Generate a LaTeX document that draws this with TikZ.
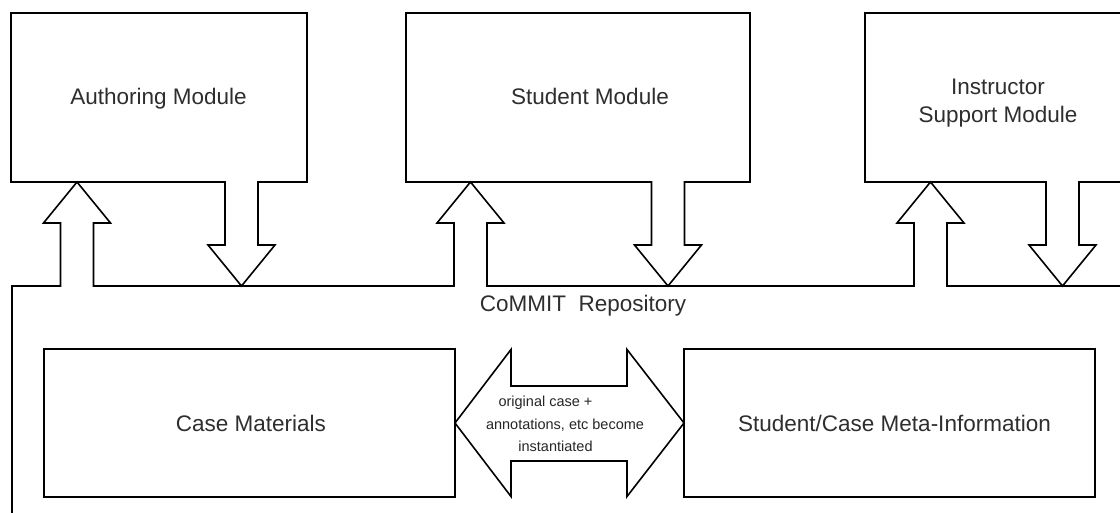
\documentclass[tikz,border=0pt]{standalone}
\usepackage{fontspec}
\setmainfont{Liberation Sans}
\usetikzlibrary{calc}

\tikzset{
  box/.style={draw, line width=1.6pt, fill=white, inner sep=0pt, outer sep=0pt},
  outline/.style={line width=1.6pt, line join=miter},
  lbl/.style={anchor=base, inner sep=0pt, text=black!82,
    font=\fontsize{22.5}{27.5}\selectfont, align=center},
  note/.style={anchor=base, inner sep=0pt, text=black!85,
    font=\fontsize{14.5}{22.5}\selectfont, align=center},
}

% Hollow arrow rising from the repository line (#2) into the lower edge of module #1
\newcommand\upblock[2]{%
  \fill[white] ($(#2 |- #1.south)+(-16.5,40)$) rectangle ($(#2)+(16.5,1.5)$);
  \draw[outline] ($(#2)+(-16.5,0.8)$) |- ($(#2 |- #1.south)+(-33.5,41)$)
    -- (#2 |- #1.south) -- ($(#2 |- #1.south)+(33.5,41)$) -| ($(#2)+(16.5,0.8)$);
}
% Hollow arrow leaving the lower edge of module #1 and pointing down onto the repository line (#2)
\newcommand\downblock[2]{%
  \fill[white] ($(#2 |- #1.south)+(-16.5,-1.5)$) rectangle ($(#2)+(16.5,-40)$);
  \draw[outline] ($(#2 |- #1.south)+(-16.5,-0.8)$) |- ($(#2)+(-33.5,-41)$)
    -- (#2) -- ($(#2)+(33.5,-41)$) -| ($(#2 |- #1.south)+(16.5,-0.8)$);
}

\begin{document}
\begin{tikzpicture}[x=1pt, y=-1pt]
  \useasboundingbox (0,0) rectangle (1120,513);
  \clip (0,0) rectangle (1120,513);

  % modules
  \node[box, minimum width=296pt, minimum height=169pt] (auth) at (159,97.5) {};
  \node[box, minimum width=344pt, minimum height=169pt] (stud) at (578,97.5) {};
  \node[box, minimum width=265pt, minimum height=169pt] (inst) at (997.5,97.5) {};

  \node[lbl] (authlbl) at (158.5,105) {Authoring Module};
  \node[lbl] (studlbl) at (590,105) {Student Module};
  \node[lbl] (instlbl) at (998,122.5) {Instructor\\Support Module};

  % repository outline
  \coordinate (repocorner) at (12,286);
  \draw[outline] (12,520) -- (repocorner) -- (1130,286);
  \node[lbl] (repolbl) at (583,312) {CoMMIT\ \ Repository};

  % attachment points on the repository line
  \coordinate (rA1) at (77,286);
  \coordinate (rA2) at (241.5,286);
  \coordinate (rS1) at (470.5,286);
  \coordinate (rS2) at (668,286);
  \coordinate (rI1) at (930.5,286);
  \coordinate (rI2) at (1062.5,286);

  \upblock{auth}{rA1}
  \downblock{auth}{rA2}
  \upblock{stud}{rS1}
  \downblock{stud}{rS2}
  \upblock{inst}{rI1}
  \downblock{inst}{rI2}

  % repository contents
  \node[box, minimum width=411pt, minimum height=148pt] (cm) at (249.5,423) {};
  \node[box, minimum width=411pt, minimum height=148pt] (meta) at (889.5,423) {};
  \node[lbl] (cmlbl) at (251,431.5) {Case Materials};
  \node[lbl] (metalbl) at (894.5,431.5) {Student/Case Meta-Information};

  % two-headed hollow arrow between the stores
  \draw[outline, fill=white] (cm.east)
    -- ($(cm.east)+(56,-73.5)$) -- ($(cm.east)+(56,-37)$)
    -- ($(cm.east)+(172,-37)$) -- ($(cm.east)+(172,-73.5)$)
    -- (meta.west)
    -- ($(cm.east)+(172,73.5)$) -- ($(cm.east)+(172,38)$)
    -- ($(cm.east)+(56,38)$) -- ($(cm.east)+(56,73.5)$) -- cycle;
  \node[note] (dbllbl) at (565,451.5)
    {original case +\hspace*{39pt}\\annotations, etc become\\instantiated\hspace*{19pt}};
\end{tikzpicture}
\end{document}
